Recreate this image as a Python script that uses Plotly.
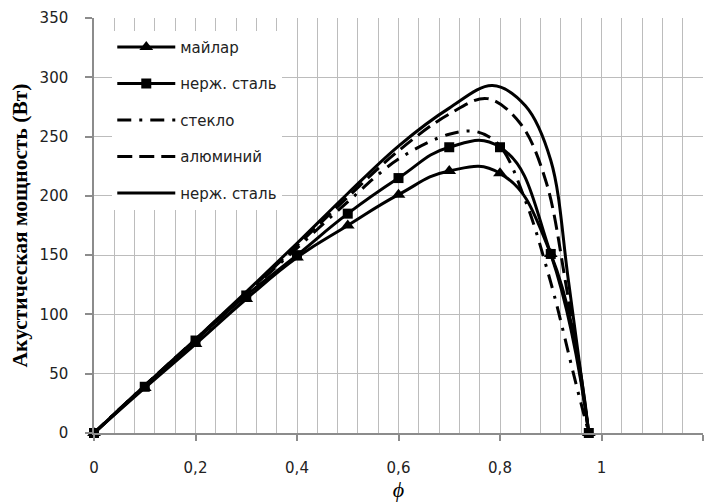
import plotly.graph_objects as go

# ---- data ----
phi_marked = [0, 0.1, 0.2, 0.3, 0.4, 0.5, 0.6, 0.7, 0.8, 0.9, 0.975]
mylar = [0, 38, 75, 113, 148, 175, 201, 221, 219, 151, 0]
steel_marked = [0, 39, 78, 116, 150, 185, 215, 241, 241, 151, 0]

phi_glass = [0, 0.1, 0.2, 0.3, 0.4, 0.5, 0.6, 0.7, 0.755, 0.8, 0.85, 0.9, 0.95, 0.975]
glass = [0, 40, 78, 117, 156, 195, 231, 252, 254, 242, 196, 127, 41, 0]

phi_alum = [0, 0.1, 0.2, 0.3, 0.4, 0.5, 0.6, 0.7, 0.775, 0.84, 0.89, 0.93, 0.975]
alum = [0, 40, 79, 118, 158, 199, 238, 269, 282, 261, 213, 125, 0]

phi_steel = [0, 0.1, 0.2, 0.3, 0.4, 0.5, 0.6, 0.7, 0.785, 0.85, 0.9, 0.935, 0.975]
steel = [0, 40, 79, 119, 160, 202, 242, 274, 293, 276, 230, 128, 0]

names = ["майлар", "нерж. сталь", "стекло", "алюминий", "нерж. сталь"]
x_tickvals = [0, 0.2, 0.4, 0.6, 0.8, 1.0, 1.2]
x_ticktext = ["0", "0,2", "0,4", "0,6", "0,8", "1", "1,2"]

GRID = "#bcbcbc"
AXIS = "#8c8c8c"
FONT = "DejaVu Sans"

fig = go.Figure()
line_kw = dict(color="black", width=3, shape="spline", smoothing=1)
marked_line = dict(color="black", width=3, shape="spline", smoothing=1.3)

fig.add_trace(go.Scatter(x=phi_marked, y=mylar, name=names[0], mode="lines+markers",
                         line=marked_line, marker=dict(symbol="triangle-up", size=12, color="black"),
                         cliponaxis=False, legendgroup="g1"))
fig.add_trace(go.Scatter(x=phi_marked, y=steel_marked, name=names[1], mode="lines+markers",
                         line=marked_line, marker=dict(symbol="square", size=10, color="black"),
                         cliponaxis=False, legendgroup="g2"))
fig.add_trace(go.Scatter(x=phi_glass, y=glass, name=names[2], mode="lines",
                         line=dict(line_kw, dash="14px,8px,3px,8px"), legendgroup="g3"))
fig.add_trace(go.Scatter(x=phi_alum, y=alum, name=names[3], mode="lines",
                         line=dict(line_kw, dash="15px,7px"), legendgroup="g4"))
fig.add_trace(go.Scatter(x=phi_steel, y=steel, name=names[4], mode="lines",
                         line=line_kw, legendgroup="g5"))

fig.update_xaxes(range=[0, 1.2], tickvals=x_tickvals, ticktext=x_ticktext,
                 showgrid=True, gridcolor=GRID, gridwidth=1,
                 minor=dict(dtick=0.04, tick0=0, showgrid=True, gridcolor=GRID, gridwidth=1),
                 showline=True, linecolor=AXIS, linewidth=1.5,
                 ticks="outside", ticklen=6, tickcolor=AXIS, tickwidth=1.5,
                 ticklabelstandoff=14, zeroline=False,
                 tickfont=dict(family=FONT, size=15, color="#222222"),
                 title=dict(text="<i>ϕ</i>", font=dict(family="Liberation Serif", size=22, color="black"),
                            standoff=2))
fig.update_yaxes(range=[0, 350], dtick=50, tick0=0,
                 showgrid=True, gridcolor=GRID, gridwidth=1,
                 showline=True, linecolor=AXIS, linewidth=1.5,
                 ticks="outside", ticklen=7, tickcolor=AXIS, tickwidth=1.5,
                 ticklabelstandoff=14, zeroline=False,
                 tickfont=dict(family=FONT, size=15, color="#222222"),
                 title=dict(text="<b>Акустическая мощность (Вт)</b>",
                            font=dict(family="Liberation Serif", size=21.5, color="black"),
                            standoff=6))

fig.update_layout(
    width=708, height=502,
    margin=dict(l=94, r=5, t=18, b=69),
    paper_bgcolor="white", plot_bgcolor="white",
    showlegend=True,
    legend=dict(x=0.03, y=0.969, xanchor="left", yanchor="top",
                bgcolor="white", borderwidth=0,
                font=dict(family=FONT, size=15, color="#222222"),
                itemwidth=58, tracegroupgap=14, traceorder="grouped"),
)

fig.write_html("out.html")
